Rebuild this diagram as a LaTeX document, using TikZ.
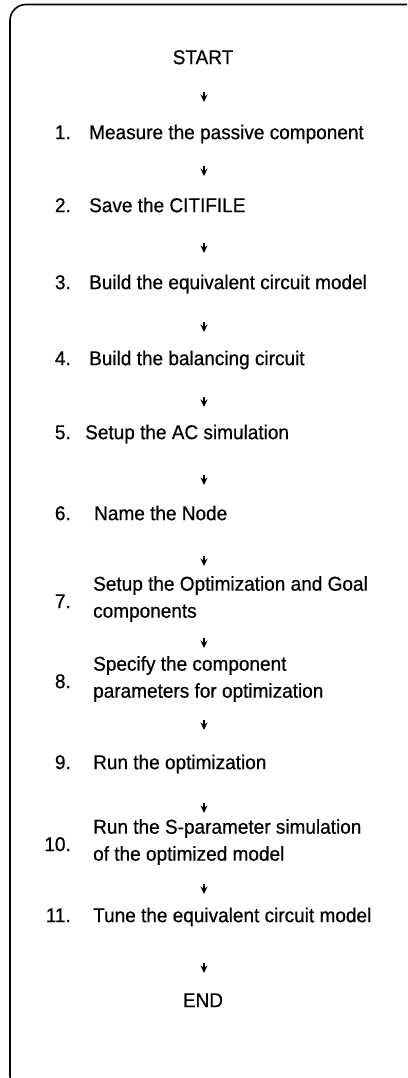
\documentclass[tikz,border=0pt]{standalone}
\usepackage{fontspec}
\setmainfont{Liberation Sans}[FakeBold=0.6, FakeStretch=0.95]
\usetikzlibrary{arrows.meta,decorations.markings}

\begin{document}
\begin{tikzpicture}[x=1pt, y=-1pt,
  every node/.style={inner sep=0pt, text=black, font=\fontsize{20}{27}\selectfont},
  lbl/.style={text height=14.3pt, text depth=0pt},
  stepbox/.style={lbl, anchor=west},
  twoline/.style={anchor=west, align=left},
  num/.style={lbl, anchor=east},
  flowarrow/.style={postaction={decorate}, decoration={markings,
    mark=at position -#1 pt with {\draw[-{Stealth[length=7.5pt,width=7pt,inset=2.5pt]}, line width=1.3pt] (-10pt,0) -- (0,0);}}}]
  \useasboundingbox (0,0) rectangle (407,1078);
  \clip (0,0) rectangle (407,1078);
  \draw[line width=1.6pt, rounded corners=16pt] (10,4.5) rectangle (440,1092);
  \coordinate (axis) at (204,0);

  \node[lbl] (st) at (203,57) {START};
  \node[num] (n1) at (71,132) {1.};
  \node[stepbox] (s1) at (89,132) {Measure the passive component};
  \node[num] (n2) at (71,205) {2.};
  \node[stepbox] (s2) at (89,205) {Save the CITIFILE};
  \node[num] (n3) at (71,282) {3.};
  \node[stepbox] (s3) at (89,282) {Build the equivalent circuit model};
  \node[num] (n4) at (71,358) {4.};
  \node[stepbox] (s4) at (89,358) {Build the balancing circuit};
  \node[num] (n5) at (71,432) {5.};
  \node[stepbox] (s5) at (85,432) {Setup the AC simulation};
  \node[num] (n6) at (71,513) {6.};
  \node[stepbox] (s6) at (94,513) {Name the Node};
  \node[num] (n7) at (71,601) {7.};
  \node[twoline] (s7) at (93,599) {Setup the Optimization and Goal\\components};
  \node[num] (n8) at (71,681) {8.};
  \node[twoline] (s8) at (93,679) {Specify the component\\parameters for optimization};
  \node[num] (n9) at (71,762) {9.};
  \node[stepbox] (s9) at (93,762) {Run the optimization};
  \node[num] (n10) at (71,844) {10.};
  \node[twoline] (s10) at (93,842) {Run the S-parameter simulation\\of the optimized model};
  \node[num] (n11) at (71,915) {11.};
  \node[stepbox] (s11) at (93,915) {Tune the equivalent circuit model};
  \node[lbl] (en) at (203,1000) {END};

  \foreach \a/\b/\d in {st/s1/30, s1/s2/29, s2/s3/29, s3/s4/26, s4/s5/25, s5/s6/28,
      s6/s7/33, s7/s8/31, s8/s9/32, s9/s10/29, s10/s11/21, s11/en/27}
    \path[flowarrow=\d] (\a -| axis) -- (\b -| axis);
\end{tikzpicture}
\end{document}
